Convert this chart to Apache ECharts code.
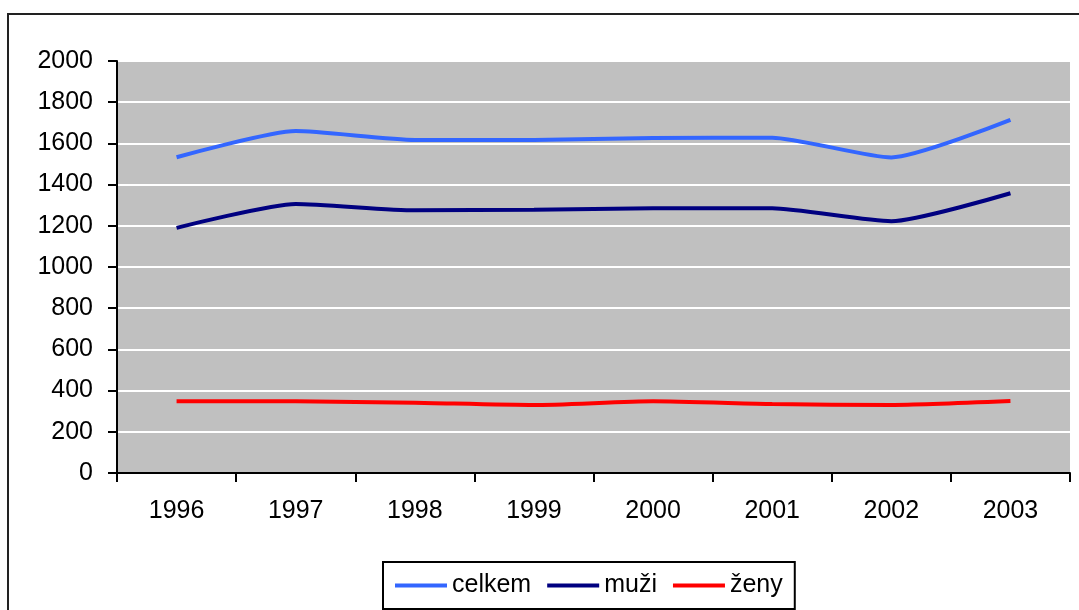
<!DOCTYPE html>
<html>
<head>
<meta charset="utf-8">
<script src="https://cdn.jsdelivr.net/npm/echarts@6/dist/echarts.min.js"></script>
<style>
  html, body { margin: 0; padding: 0; background: #fff; }
  #chart { width: 1079px; height: 610px; }
</style>
</head>
<body>
<div id="chart"></div>
<script>
// years on the x axis
var years = ['1996', '1997', '1998', '1999', '2000', '2001', '2002', '2003']
// values
var celkem = [1533, 1660, 1617, 1617, 1626, 1628, 1532, 1714]
var muzi = [1190, 1306, 1275, 1278, 1285, 1285, 1222, 1358]
var zeny = [348, 348, 341, 330, 348, 335, 330, 349]
var seriesNames = ['celkem', 'muži', 'ženy']
var seriesColors = ['#3366FF', '#000080', '#FF0000']

var chart = echarts.init(document.getElementById('chart'))
var font = '"Liberation Sans", Arial, sans-serif'

function makeLine(name, data, color) {
  return {
    name: name,
    type: 'line',
    data: data,
    symbol: 'none',
    smooth: 0.2,
    lineStyle: { color: color, width: 4 },
    itemStyle: { color: color }
  }
}

chart.setOption({
  animation: false,
  backgroundColor: '#fff',
  textStyle: { fontFamily: font },
  // outer chart-area border (runs off the right and bottom edges)
  graphic: [{
    type: 'rect',
    shape: { x: 8, y: 14, width: 1200, height: 700 },
    style: { fill: 'none', stroke: '#222', lineWidth: 2 },
    z: -1
  }],
  grid: {
    left: 117,
    right: 9,
    top: 61,
    bottom: 137,
    show: true,
    backgroundColor: '#C0C0C0',
    borderWidth: 0
  },
  legend: {
    data: seriesNames.map(function (n) { return { name: n, icon: 'rect' } }),
    left: 383,
    top: 562,
    padding: [11, 12, 11, 12],
    borderColor: '#000',
    borderWidth: 2,
    itemWidth: 52,
    itemHeight: 4,
    itemGap: 16,
    textStyle: { fontFamily: font, fontSize: 25, color: '#000' }
  },
  xAxis: {
    type: 'category',
    data: years,
    boundaryGap: true,
    axisLine: { lineStyle: { color: '#000', width: 2 } },
    axisTick: { show: true, length: 9, lineStyle: { color: '#000', width: 2 } },
    axisLabel: { color: '#000', fontSize: 25, fontFamily: font, margin: 26 },
    splitLine: { show: false }
  },
  yAxis: {
    type: 'value',
    min: 0,
    max: 2000,
    interval: 200,
    axisLine: { show: true, lineStyle: { color: '#000', width: 2 } },
    axisTick: { show: true, length: 9, lineStyle: { color: '#000', width: 2 } },
    axisLabel: {
      color: '#000', fontSize: 25, fontFamily: font, margin: 24,
      formatter: function (v) { return String(v) }
    },
    splitLine: { show: true, lineStyle: { color: '#fff', width: 2 } }
  },
  series: [
    makeLine(seriesNames[0], celkem, seriesColors[0]),
    makeLine(seriesNames[1], muzi, seriesColors[1]),
    makeLine(seriesNames[2], zeny, seriesColors[2])
  ]
})
</script>
</body>
</html>
